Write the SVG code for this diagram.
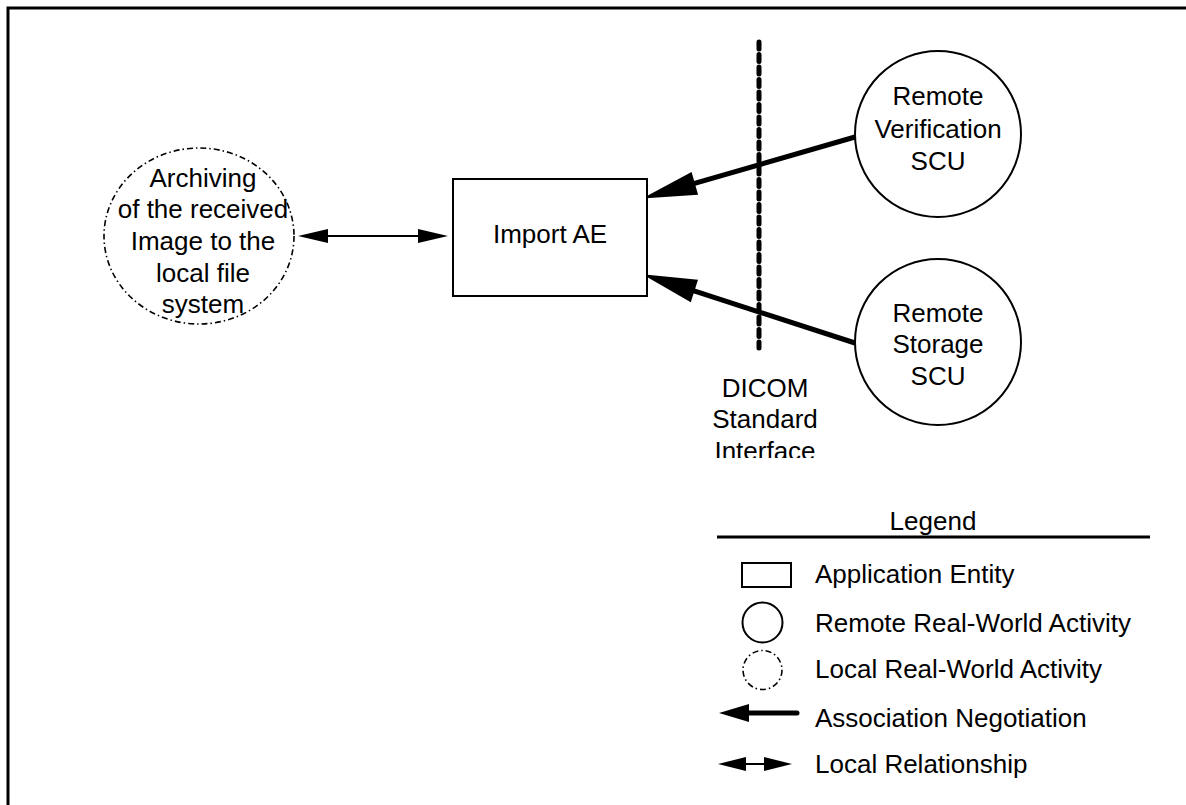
<svg xmlns="http://www.w3.org/2000/svg" width="1186" height="805" viewBox="0 0 1186 805">
<style>
text{font-family:"Liberation Sans",Arial,sans-serif;font-size:26px;fill:#000}
.c{text-anchor:middle}
.box{fill:#fff;stroke:#000;stroke-width:2}
.remote{fill:#fff;stroke:#000;stroke-width:2}
.local{fill:none;stroke:#000;stroke-width:1.6;stroke-dasharray:6 3 1.5 3}
.assoc{stroke:#000;stroke-width:5;fill:none;stroke-linecap:round}
.rel{stroke:#000;stroke-width:2;fill:none}
</style>
<defs>
<marker id="ah" markerUnits="userSpaceOnUse" orient="auto" refX="12" refY="0" markerWidth="60" markerHeight="40" viewBox="-2 -12 46 24" overflow="visible">
<path d="M0,-9 L42,0 L0,9 z" fill="#000"/>
</marker>
<marker id="rh" markerUnits="userSpaceOnUse" orient="auto-start-reverse" refX="0" refY="0" markerWidth="40" markerHeight="20" viewBox="-2 -10 34 20" overflow="visible">
<path d="M0,-7 L30,0 L0,7 z" fill="#000"/>
</marker>
<clipPath id="clipDicom"><rect x="690" y="360" width="150" height="98"/></clipPath>
</defs>
<path d="M8,805 V8 H1186" fill="none" stroke="#000" stroke-width="3"/>
<g id="connectors">
<line x1="759" y1="42" x2="759" y2="348" stroke="#000" stroke-width="5" stroke-linecap="round" stroke-dasharray="7 5.5"/>
<line class="rel" x1="328" y1="236" x2="418" y2="236" marker-start="url(#rh)" marker-end="url(#rh)"/>
<line class="assoc" x1="855" y1="137" x2="679.8" y2="187.7" marker-end="url(#ah)"/>
<line class="assoc" x1="855" y1="343" x2="679.5" y2="286.2" marker-end="url(#ah)"/>
</g>
<g id="local-archive">
<ellipse class="local" cx="199" cy="236" rx="95" ry="88"/>
<text class="c" x="203" y="187">Archiving</text>
<text class="c" x="203" y="218">of the received</text>
<text class="c" x="203" y="250">Image to the</text>
<text class="c" x="203" y="282">local file</text>
<text class="c" x="203" y="313">system</text>
</g>
<g id="import-ae">
<rect class="box" x="453" y="179" width="194" height="117"/>
<text class="c" x="550" y="243">Import AE</text>
</g>
<g id="remote-verification">
<circle class="remote" cx="938" cy="134" r="83"/>
<text class="c" x="938" y="105">Remote</text>
<text class="c" x="938" y="138">Verification</text>
<text class="c" x="938" y="170">SCU</text>
</g>
<g id="remote-storage">
<circle class="remote" cx="938" cy="342" r="83"/>
<text class="c" x="938" y="322">Remote</text>
<text class="c" x="938" y="353">Storage</text>
<text class="c" x="938" y="385">SCU</text>
</g>
<g id="dicom-label" clip-path="url(#clipDicom)">
<text class="c" x="765" y="397">DICOM</text>
<text class="c" x="765" y="428">Standard</text>
<text class="c" x="765" y="460">Interface</text>
</g>
<g id="legend">
<text class="c" x="933" y="530">Legend</text>
<line x1="717" y1="537" x2="1150" y2="537" stroke="#000" stroke-width="3"/>
<rect class="box" x="742" y="563" width="49" height="24"/>
<text x="815" y="583">Application Entity</text>
<circle class="remote" cx="762.5" cy="622.5" r="20"/>
<text x="815" y="632">Remote Real-World Activity</text>
<circle class="local" cx="762.5" cy="670" r="19.5"/>
<text x="815" y="678">Local Real-World Activity</text>
<line class="assoc" x1="797" y1="713" x2="745" y2="713"/>
<path d="M719,713 L749,704 L749,722 z" fill="#000"/>
<text x="815" y="727">Association Negotiation</text>
<line class="rel" x1="744" y1="764" x2="766" y2="764"/>
<path d="M718,764 L746,757 L746,771 z M792,764 L764,757 L764,771 z" fill="#000"/>
<text x="815" y="773">Local Relationship</text>
</g>
</svg>
